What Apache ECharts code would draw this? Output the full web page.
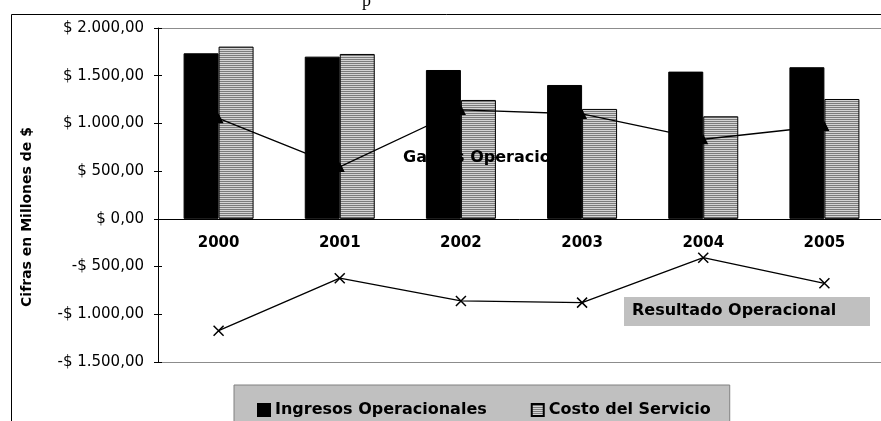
<!DOCTYPE html>
<html>
<head>
<meta charset="utf-8">
<script src="https://cdn.jsdelivr.net/npm/echarts@6/dist/echarts.min.js"></script>
<style>
  html, body { margin: 0; padding: 0; background: #fff; }
  #chart { width: 881px; height: 421px; }
</style>
</head>
<body>
<div id="chart"></div>
<script>
// data (millones de $)
const years = ['2000', '2001', '2002', '2003', '2004', '2005']
const ingresos = [1735, 1700, 1560, 1403, 1543, 1589]
const costo = [1805, 1728, 1246, 1152, 1075, 1256]
const gastos = [1054, 544, 1141, 1099, 834, 973]
const resultado = [-1172, -622, -860, -878, -407, -675]
const yTicks = {min: -1500, max: 2000, step: 500}

const font = 'DejaVu Sans'
const plotTop = 28
const plotHeight = 334
// the category axis sits on the zero line: shift it up from the bottom edge
const zeroOffset = -Math.round(plotHeight * (0 - yTicks.min) / (yTicks.max - yTicks.min))

function money(v) {
  const parts = Math.abs(v).toFixed(2).split('.')
  const int = parts[0].replace(/\B(?=(\d{3})+(?!\d))/g, '.')
  return (v < 0 ? '-' : '') + '$ ' + int + ',' + parts[1]
}

// horizontal hatch used for the cost bars
const hatch = document.createElement('canvas')
hatch.width = 4
hatch.height = 2
const hctx = hatch.getContext('2d')
hctx.fillStyle = '#d4d4d4'
hctx.fillRect(0, 0, 4, 1)
hctx.fillStyle = '#7c7c7c'
hctx.fillRect(0, 1, 4, 1)

// only the first and last split lines are drawn (top and bottom of the plot)
const nLines = (yTicks.max - yTicks.min) / yTicks.step + 1
const splitColors = []
for (let i = 0; i < nLines; i++) {
  splitColors.push(i === 0 || i === nLines - 1 ? '#8c8c8c' : 'rgba(0,0,0,0)')
}

const chart = echarts.init(document.getElementById('chart'))

chart.setOption({
  animation: false,
  grid: {left: 158, top: plotTop, width: 727, height: plotHeight, outerBoundsMode: 'none', containLabel: false},
  legend: {
    data: ['Ingresos Operacionales', 'Costo del Servicio'],
    left: 234, top: 385,
    backgroundColor: '#c0c0c0',
    borderColor: '#808080',
    borderWidth: 1,
    padding: [17, 19, 20, 23],
    icon: 'rect',
    itemWidth: 12,
    itemHeight: 12,
    itemGap: 44,
    textStyle: {fontFamily: font, fontWeight: 'bold', fontSize: 16, color: '#000'}
  },
  xAxis: [
    {
      type: 'category',
      data: years,
      offset: zeroOffset,
      axisLine: {onZero: false, lineStyle: {color: '#000', width: 1}},
      axisTick: {length: 4, lineStyle: {color: '#000'}},
      axisLabel: {fontFamily: font, fontWeight: 'bold', fontSize: 15, color: '#000', margin: 17}
    },
    {
      type: 'category',
      data: years,
      position: 'bottom',
      offset: zeroOffset,
      axisLine: {show: false, onZero: false},
      axisTick: {inside: true, length: 4, lineStyle: {color: '#000'}},
      axisLabel: {show: false}
    }
  ],
  yAxis: [
    {
      type: 'value',
      min: yTicks.min, max: yTicks.max, interval: yTicks.step,
      axisLine: {show: true, lineStyle: {color: '#000'}},
      axisTick: {show: true, length: 4, lineStyle: {color: '#000'}},
      splitLine: {show: true, lineStyle: {color: splitColors, width: 1}},
      axisLabel: {formatter: money, fontFamily: font, fontSize: 15, color: '#000', margin: 14}
    },
    {
      type: 'value',
      position: 'left',
      min: yTicks.min, max: yTicks.max, interval: yTicks.step,
      axisLine: {show: false},
      axisTick: {show: true, inside: true, length: 4, lineStyle: {color: '#000'}},
      splitLine: {show: false},
      axisLabel: {show: false}
    }
  ],
  series: [
    {
      name: 'Ingresos Operacionales',
      type: 'bar',
      data: ingresos,
      barWidth: 35,
      barGap: '0%',
      z: 5,
      itemStyle: {color: '#000', borderColor: '#000', borderWidth: 1}
    },
    {
      name: 'Costo del Servicio',
      type: 'bar',
      data: costo,
      barWidth: 35,
      z: 2,
      itemStyle: {color: {image: hatch, repeat: 'repeat'}, borderColor: '#000', borderWidth: 1}
    },
    {
      name: 'Gastos Operacionales',
      type: 'line',
      data: gastos,
      z: 3,
      symbol: 'triangle',
      symbolSize: 10,
      lineStyle: {color: '#000', width: 1.3},
      itemStyle: {color: '#000'}
    },
    {
      name: 'Resultado Operacional',
      type: 'line',
      data: resultado,
      z: 6,
      symbol: 'path://M0,0L10,10M10,0L0,10',
      symbolSize: 10,
      lineStyle: {color: '#000', width: 1.3},
      itemStyle: {color: 'none', borderColor: '#000', borderWidth: 1.5}
    }
  ],
  graphic: [
    {
      type: 'rect', z: 0, silent: true,
      shape: {x: 11.5, y: 14.5, width: 1000, height: 1000},
      style: {fill: 'none', stroke: '#000', lineWidth: 1}
    },
    {
      type: 'text', x: 362, y: 1, silent: true,
      style: {text: 'p', font: '18px "Liberation Serif"', fill: '#000', verticalAlign: 'middle'}
    },
    {
      type: 'text', x: 27, y: 217, rotation: Math.PI / 2, silent: true,
      style: {text: 'Cifras en Millones de $', font: 'bold 14px "DejaVu Sans"', fill: '#000', align: 'center', verticalAlign: 'middle'}
    },
    {
      type: 'text', x: 403, y: 158, z: 4, silent: true,
      style: {
        text: 'Gastos Operacionales', font: 'bold 16px "DejaVu Sans"', fill: '#000', verticalAlign: 'middle',
        width: 156, overflow: 'truncate', ellipsis: ''
      }
    },
    {
      type: 'rect', x: 624, y: 297, z: 7, silent: true,
      shape: {width: 246, height: 29},
      style: {fill: '#c0c0c0'}
    },
    {
      type: 'text', x: 632, y: 311, z: 8, silent: true,
      style: {text: 'Resultado Operacional', font: 'bold 16px "DejaVu Sans"', fill: '#000', verticalAlign: 'middle'}
    }
  ]
})
</script>
</body>
</html>
